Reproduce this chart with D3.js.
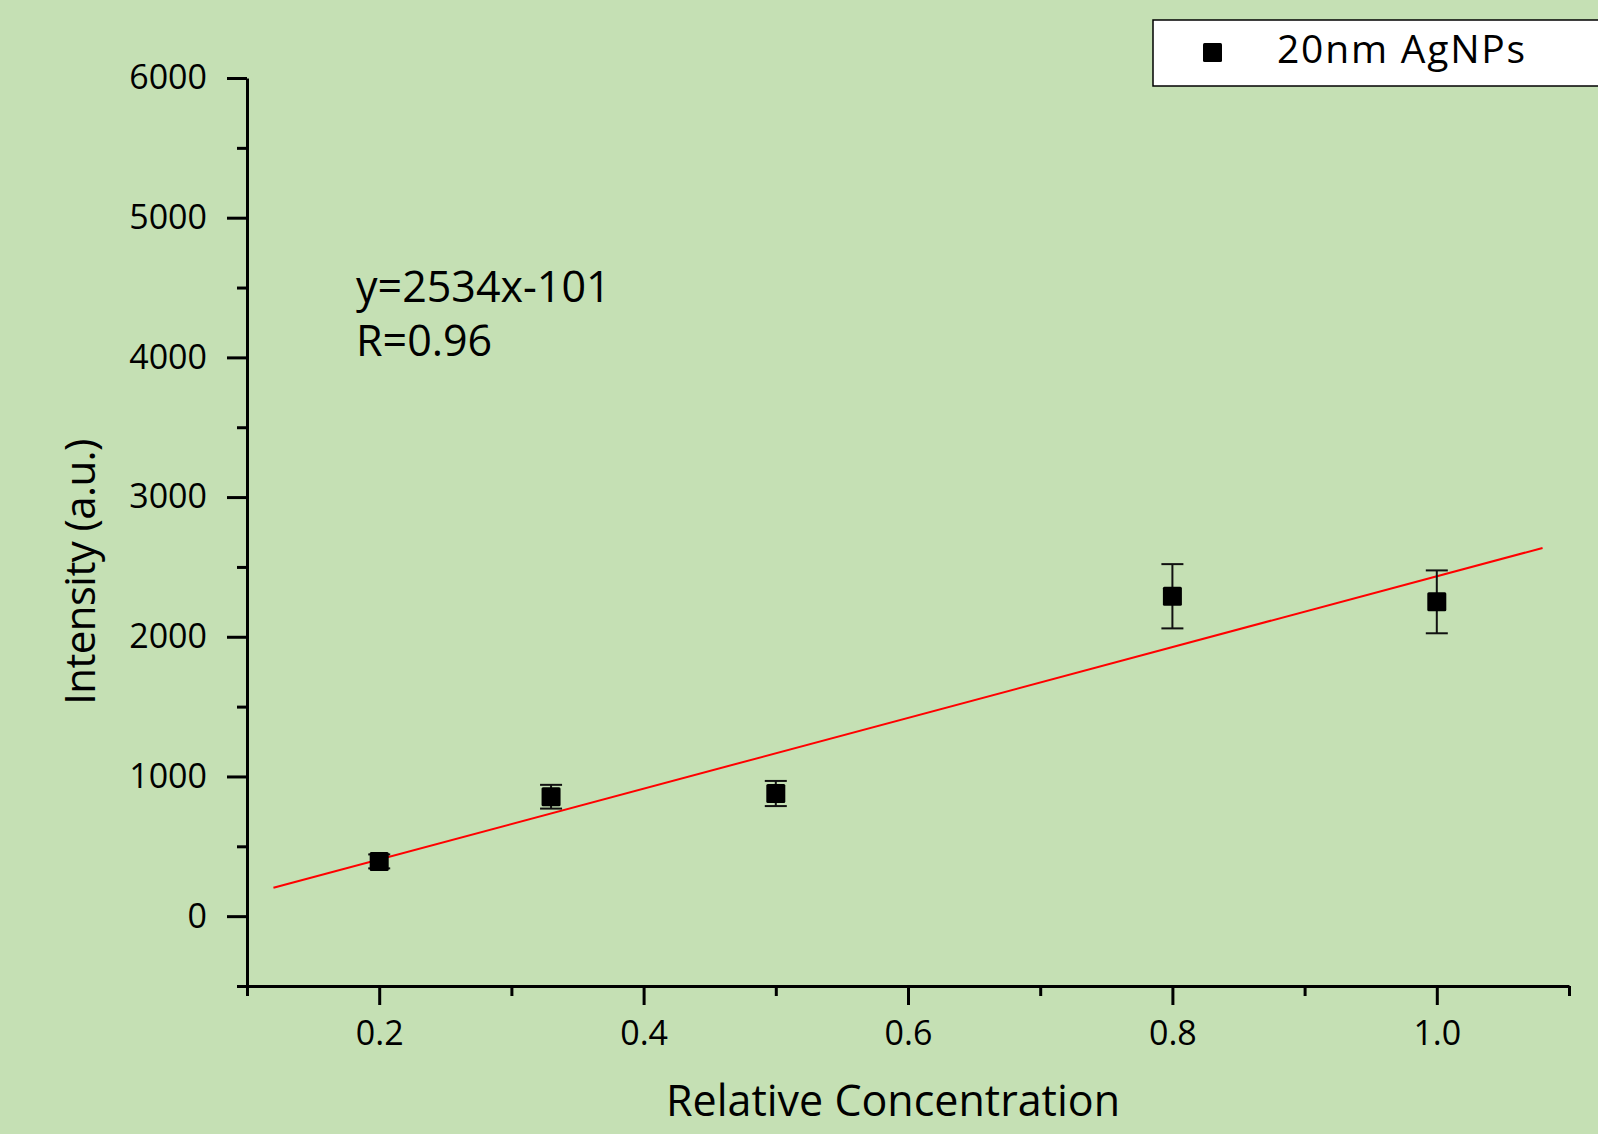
<!DOCTYPE html>
<html>
<head>
<meta charset="utf-8">
<script src="https://cdn.jsdelivr.net/npm/d3@7/dist/d3.min.js"></script>
<style>
  body { margin: 0; background: #c5e0b4; }
  svg { display: block; font-family: "Open Sans", sans-serif; }
</style>
</head>
<body>
<div class="canvas"></div>
<script>
// data
const concentration = [0.2, 0.33, 0.5, 0.8, 1.0];
const intensity = [392, 855, 878, 2290, 2250];
const errors = [50, 85, 90, 230, 225];

// linear fit shown on the chart
const fitSlope = 2534;
const fitIntercept = -101;
const fitRange = [0.12, 1.08];
const fitText = ['y=2534x-101', 'R=0.96'];

const seriesName = '20nm AgNPs';

const xMajor = [0.2, 0.4, 0.6, 0.8, 1.0];
const xMinor = [0.1, 0.3, 0.5, 0.7, 0.9, 1.1];
const yMajor = [0, 1000, 2000, 3000, 4000, 5000, 6000];
const yMinor = [-500, 500, 1500, 2500, 3500, 4500, 5500];

const dims = { w: 1598, h: 1134 };
const plot = { left: 247, right: 1569, top: 78, bottom: 986 };
const font = '"Open Sans", sans-serif';

const svg = d3.select('.canvas')
  .append('svg')
    .attr('width', dims.w)
    .attr('height', dims.h);

svg.append('rect')
  .attr('width', dims.w)
  .attr('height', dims.h)
  .attr('fill', '#c5e0b4');

// scales
const x = d3.scaleLinear().domain([0.1, 1.1]).range([plot.left, plot.right]);
const y = d3.scaleLinear().domain([-500, 6000]).range([plot.bottom, plot.top]);

// axes: major ticks with labels, minor ticks without
const styleAxis = g => {
  g.attr('font-family', font).attr('font-size', 34);
  g.selectAll('g').attr('font-family', font).attr('font-size', 34);
  g.select('.domain').attr('stroke-width', 3).attr('stroke', '#000');
  g.selectAll('.tick line').attr('stroke-width', 3).attr('stroke', '#000');
  g.selectAll('.tick text').attr('fill', '#000');
};

const xAxisG = svg.append('g').attr('transform', `translate(0,${plot.bottom})`);
xAxisG.call(d3.axisBottom(x).tickValues(xMinor).tickSize(10).tickSizeOuter(0).tickFormat(''));
xAxisG.append('g').call(d3.axisBottom(x).tickValues(xMajor).tickSize(19).tickSizeOuter(0)
  .tickPadding(16).tickFormat(d3.format('.1f')))
  .call(g => g.select('.domain').remove());
styleAxis(xAxisG);

const yAxisG = svg.append('g').attr('transform', `translate(${plot.left},0)`);
yAxisG.call(d3.axisLeft(y).tickValues(yMinor).tickSize(10).tickSizeOuter(0).tickFormat(''));
yAxisG.append('g').call(d3.axisLeft(y).tickValues(yMajor).tickSize(20).tickSizeOuter(0)
  .tickPadding(20).tickFormat(d3.format('d')))
  .call(g => g.select('.domain').remove());
styleAxis(yAxisG);

// axis titles
svg.append('text')
  .attr('x', 893)
  .attr('y', 1116)
  .attr('text-anchor', 'middle')
  .attr('font-size', 43)
  .text('Relative Concentration');

svg.append('text')
  .attr('transform', `translate(95,${572}) rotate(-90)`)
  .attr('text-anchor', 'middle')
  .attr('font-size', 42)
  .attr('letter-spacing', -0.6)
  .text('Intensity (a.u.)');

// fit line
const line = d3.line()
  .x(d => x(d))
  .y(d => y(fitSlope * d + fitIntercept));

svg.append('path')
  .datum(fitRange)
  .attr('d', line)
  .attr('fill', 'none')
  .attr('stroke', '#ff0000')
  .attr('stroke-width', 2);

// points with error bars
const points = concentration.map((c, i) => ({ c, v: intensity[i], e: errors[i] }));

const pts = svg.append('g').selectAll('g')
  .data(points)
  .enter()
  .append('g');

pts.append('line')
  .attr('x1', d => x(d.c)).attr('x2', d => x(d.c))
  .attr('y1', d => y(d.v - d.e)).attr('y2', d => y(d.v + d.e))
  .attr('stroke', '#111').attr('stroke-width', 2);

[-1, 1].forEach(s => {
  pts.append('line')
    .attr('x1', d => x(d.c) - 11).attr('x2', d => x(d.c) + 11)
    .attr('y1', d => y(d.v + s * d.e)).attr('y2', d => y(d.v + s * d.e))
    .attr('stroke', '#111').attr('stroke-width', 2);
});

pts.append('rect')
  .attr('x', d => x(d.c) - 9.5)
  .attr('y', d => y(d.v) - 9.5)
  .attr('width', 19)
  .attr('height', 19)
  .attr('rx', 1.5)
  .attr('fill', '#000');

// fit annotation
svg.append('g').selectAll('text')
  .data(fitText)
  .enter()
  .append('text')
    .attr('x', 356)
    .attr('y', (d, i) => 302 + i * 54)
    .attr('font-size', 43)
    .text(d => d);

// legend
const legend = svg.append('g');
legend.append('rect')
  .attr('x', 1153).attr('y', 20)
  .attr('width', 460).attr('height', 66)
  .attr('fill', '#fff')
  .attr('stroke', '#000')
  .attr('stroke-width', 1.5);
legend.append('rect')
  .attr('x', 1203).attr('y', 43)
  .attr('width', 19).attr('height', 19)
  .attr('rx', 1.5)
  .attr('fill', '#000');
legend.append('text')
  .attr('x', 1277).attr('y', 63)
  .attr('font-size', 39)
  .attr('letter-spacing', 1.8)
  .text(seriesName);
</script>
</body>
</html>
